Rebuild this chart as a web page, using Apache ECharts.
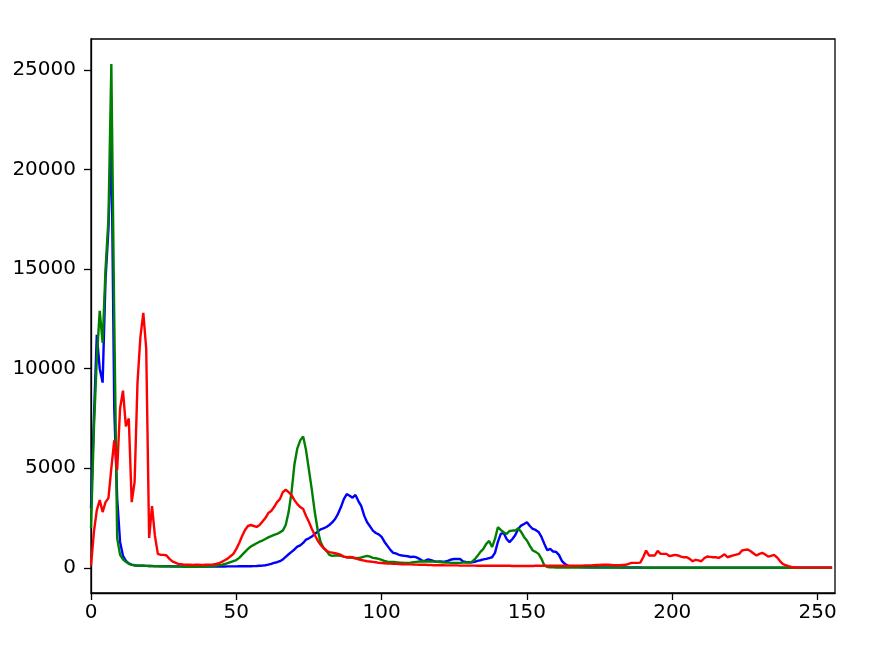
<!DOCTYPE html>
<html>
<head>
<meta charset="utf-8">
<script src="https://cdn.jsdelivr.net/npm/echarts@6/dist/echarts.min.js"></script>
<style>html,body{margin:0;padding:0;background:#fff}#c{width:890px;height:654px}</style>
</head>
<body>
<div id="c"></div>
<script>
var xTicks = [0, 50, 100, 150, 200, 250];
var yTicks = [0, 5000, 10000, 15000, 20000, 25000];

var blue = [
3000,7500,11700,10000,9300,14500,17000,21800,8000,3500,
1300,600,350,220,160,130,110,100,100,95,
90,90,85,85,80,80,75,75,70,70,
70,70,65,65,65,60,60,60,60,60,
60,60,60,60,65,65,65,70,70,70,
70,75,75,75,80,80,85,90,100,110,
130,160,200,250,280,330,420,550,680,800,
920,1060,1130,1250,1420,1480,1570,1700,1820,1930,
1980,2050,2150,2280,2450,2710,3050,3450,3700,3620,
3520,3660,3350,3100,2620,2290,2080,1870,1750,1680,
1550,1300,1100,900,750,720,650,620,600,580,
540,560,520,450,350,360,420,380,330,310,
320,310,320,360,420,440,450,440,320,290,
280,270,300,350,380,420,450,490,530,750,
1300,1700,1750,1450,1290,1450,1650,1950,2120,2200,
2290,2100,1950,1900,1800,1550,1200,880,950,820,
800,650,350,200,110,70,60,50,45,40,
35,30,30,25,25,20,20,20,20,20,
20,20,15,15,15,15,15,15,15,15,
10,10,10,10,10,10,10,10,10,10,
10,10,10,10,10,10,10,10,10,10,
10,10,10,10,10,10,10,10,10,10,
10,10,10,10,10,10,10,10,10,10,
5,5,5,5,5,5,5,5,5,5,
5,5,5,5,5,5,5,5,5,5,
0,0,0,0,0,0
];

var green = [
2000,7000,10500,12900,11300,15000,17500,25300,12500,1500,
650,430,300,200,150,120,110,100,100,95,
90,85,80,80,75,75,70,70,65,65,
60,60,60,55,55,55,55,60,60,65,
70,80,90,110,130,150,190,240,290,340,
390,500,650,800,950,1070,1150,1230,1310,1370,
1450,1530,1590,1650,1700,1780,1870,2150,2800,3800,
5200,6000,6400,6600,5900,4900,3900,2800,1900,1290,
1000,870,650,600,620,620,600,560,530,520,
500,480,490,520,560,600,560,500,480,450,
400,340,310,300,300,280,270,260,250,250,
260,280,300,320,330,320,320,320,310,300,
290,280,270,260,250,250,250,250,260,270,
270,300,420,600,800,950,1200,1350,1040,1450,
2040,1900,1790,1700,1850,1870,1870,1990,1800,1550,
1370,1100,870,800,700,450,120,40,30,20,
15,10,10,10,10,10,10,10,10,10,
10,10,10,10,10,10,10,10,10,10,
10,10,10,10,10,10,10,10,10,10,
5,5,5,5,5,5,5,5,5,5,
5,5,5,5,5,5,5,5,5,5,
5,5,5,5,5,5,5,5,5,5,
0,0,0,0,0,0,0,0,0,0,
0,0,0,0,0,0,0,0,0,0,
0,0,0,0,0,0,0,0,0,0,
0,0,0,0,0,0
];

var red = [
100,1800,2900,3400,2800,3300,3500,5000,6400,4900,
8000,8900,7100,7500,3300,4300,9300,11600,12800,11000,
1500,3100,1600,700,650,650,620,450,320,260,
200,180,160,150,150,140,150,150,140,150,
160,160,170,190,230,300,380,460,580,700,
950,1250,1600,1900,2100,2150,2100,2050,2150,2320,
2500,2750,2850,3050,3300,3450,3800,3920,3800,3650,
3400,3200,3050,2950,2600,2300,1950,1650,1370,1150,
1000,850,790,760,730,700,650,560,530,540,
530,480,420,390,360,330,320,300,280,250,
240,230,220,210,200,200,190,180,180,170,
170,160,160,150,150,150,140,140,130,130,
130,130,120,120,120,120,120,110,110,110,
110,110,110,100,100,100,100,100,100,100,
100,100,100,100,100,90,90,90,90,90,
90,90,90,100,100,100,100,100,100,100,
100,100,100,100,100,100,100,100,110,110,
120,120,120,130,140,140,150,150,150,140,
130,130,130,140,150,200,250,250,250,260,
530,870,620,620,620,850,700,700,700,590,
620,650,620,560,530,530,450,330,400,370,
330,480,570,550,530,530,500,580,680,530,
580,620,660,700,870,900,920,830,720,620,
700,750,670,560,600,650,530,350,200,130,
80,40,20,15,10,10,10,10,10,10,
10,10,10,10,10,10
];

function pairs(arr) {
  var out = [];
  for (var i = 0; i < arr.length; i++) out.push([i, arr[i]]);
  return out;
}

var chart = echarts.init(document.getElementById('c'), null, {renderer: 'canvas'});
var font = 'DejaVu Sans';
function plain(v) { return String(v); }
chart.setOption({
  animation: false,
  backgroundColor: '#ffffff',
  grid: {left: 91, top: 39, right: 55, bottom: 61, show: true, borderColor: '#000000', borderWidth: 1.3, backgroundColor: 'transparent'},
  xAxis: {
    type: 'value', min: 0, max: 256,
    axisLine: {show: true, onZero: false, lineStyle: {color: '#000000', width: 1.3}},
    axisTick: {show: true, length: 7, inside: false, customValues: xTicks, lineStyle: {color: '#000000', width: 1.3}},
    axisLabel: {show: true, customValues: xTicks, formatter: plain, margin: 10, color: '#000000', fontFamily: font, fontSize: 20},
    splitLine: {show: false}
  },
  yAxis: {
    type: 'value', min: -1265, max: 26555,
    axisLine: {show: true, onZero: false, lineStyle: {color: '#000000', width: 1.3}},
    axisTick: {show: true, length: 7, inside: false, customValues: yTicks, lineStyle: {color: '#000000', width: 1.3}},
    axisLabel: {show: true, customValues: yTicks, formatter: plain, margin: 15, color: '#000000', fontFamily: font, fontSize: 20},
    splitLine: {show: false}
  },
  series: [
    {type: 'line', data: pairs(blue), showSymbol: false, symbol: 'none', lineStyle: {color: '#0000ff', width: 2.4}, itemStyle: {color: '#0000ff'}, z: 2},
    {type: 'line', data: pairs(green), showSymbol: false, symbol: 'none', lineStyle: {color: '#008000', width: 2.4}, itemStyle: {color: '#008000'}, z: 3},
    {type: 'line', data: pairs(red), showSymbol: false, symbol: 'none', lineStyle: {color: '#ff0000', width: 2.4}, itemStyle: {color: '#ff0000'}, z: 4}
  ]
});
</script>
</body>
</html>
